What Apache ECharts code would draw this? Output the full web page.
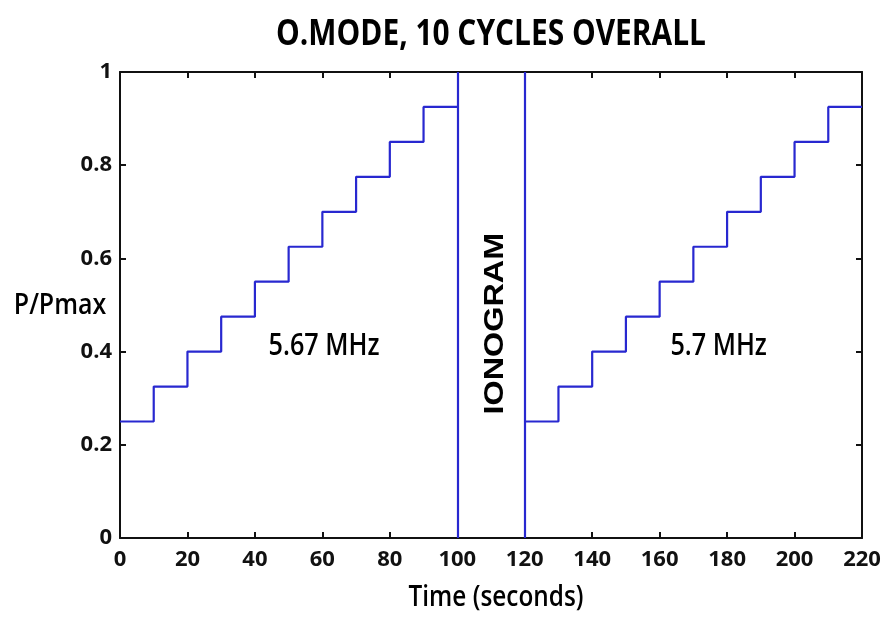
<!DOCTYPE html>
<html><head><meta charset="utf-8">
<script src="https://cdn.jsdelivr.net/npm/echarts@6/dist/echarts.min.js"></script>
<style>html,body{margin:0;padding:0;background:#fff}#c{width:885px;height:622px}</style>
</head><body><div id="c"></div>
<script>
var stepTimes1 = [0,10,20,30,40,50,60,70,80,90,100];
var stepTimes2 = [120,130,140,150,160,170,180,190,200,210,220];
var levels = [0.25,0.325,0.4,0.475,0.55,0.625,0.7,0.775,0.85,0.925,0.925];
var ionogramBounds = [100,120];
var freqLabels = [{x:60.5,y:0.41,t:'5.67 MHz'},{x:177.5,y:0.41,t:'5.7 MHz'}];
var ionogramLabel = {x:111.2,y:0.46,t:'IONOGRAM'};

var F = '"Open Sans",sans-serif';
var blue = '#2828d0';
function pts(ts){return ts.map(function(t,i){return [t,levels[i]];});}
var chart = echarts.init(document.getElementById('c'));
function axisCommon(){return {
  axisLine:{show:true,onZero:false,lineStyle:{color:'#111',width:2}},
  axisTick:{show:true,inside:true,length:6,lineStyle:{color:'#111',width:2}},
  splitLine:{show:false}
};}
function txt(x,y,text,size,weight,sx,extra){
  var o={type:'text',x:x,y:y,scaleX:sx,z:100,
    style:{text:text,fontFamily:F,fontSize:size,fontWeight:weight,fill:'#000',align:'center',verticalAlign:'middle'}};
  if(extra){for(var k in extra)o[k]=extra[k];}
  return o;
}
chart.setOption({
  animation:false,
  grid:{left:120,right:23,top:72,bottom:84},
  xAxis:[
    Object.assign({type:'value',min:0,max:220,interval:20,position:'bottom',
      axisLabel:{fontFamily:F,fontSize:22,fontWeight:'bold',color:'#111',margin:11}},axisCommon()),
    Object.assign({type:'value',min:0,max:220,interval:20,position:'top',axisLabel:{show:false}},axisCommon())
  ],
  yAxis:[
    Object.assign({type:'value',min:0,max:1,interval:0.2,position:'left',
      axisLabel:{fontFamily:F,fontSize:22,fontWeight:'bold',color:'#111',margin:8}},axisCommon()),
    Object.assign({type:'value',min:0,max:1,interval:0.2,position:'right',axisLabel:{show:false}},axisCommon())
  ],
  series:[
    {type:'line',step:'end',data:pts(stepTimes1),symbol:'none',lineStyle:{color:blue,width:2.2},
      markLine:{silent:true,symbol:'none',label:{show:false},lineStyle:{color:blue,width:2.2,type:'solid'},
        data:ionogramBounds.map(function(v){return {xAxis:v};})}},
    {type:'line',step:'end',data:pts(stepTimes2),symbol:'none',lineStyle:{color:blue,width:2.2}}
  ]
});
var g=[
  txt(491,35,'O.MODE, 10 CYCLES OVERALL',36,'bold',0.83),
  txt(60,306,'P/Pmax',29,600,0.86),
  txt(496,598,'Time (seconds)',29,600,0.84)
];
freqLabels.forEach(function(d){
  var p=chart.convertToPixel({gridIndex:0},[d.x,d.y]);
  g.push(txt(p[0],p[1],d.t,30,600,0.84));
});
var ip=chart.convertToPixel({gridIndex:0},[ionogramLabel.x,ionogramLabel.y]);
var io=txt(ip[0],ip[1],ionogramLabel.t,27,'bold',1.2,{rotation:Math.PI/2});
io.style.fontFamily='"Liberation Sans",Arial,sans-serif';
g.push(io);
chart.setOption({graphic:g});
</script></body></html>
